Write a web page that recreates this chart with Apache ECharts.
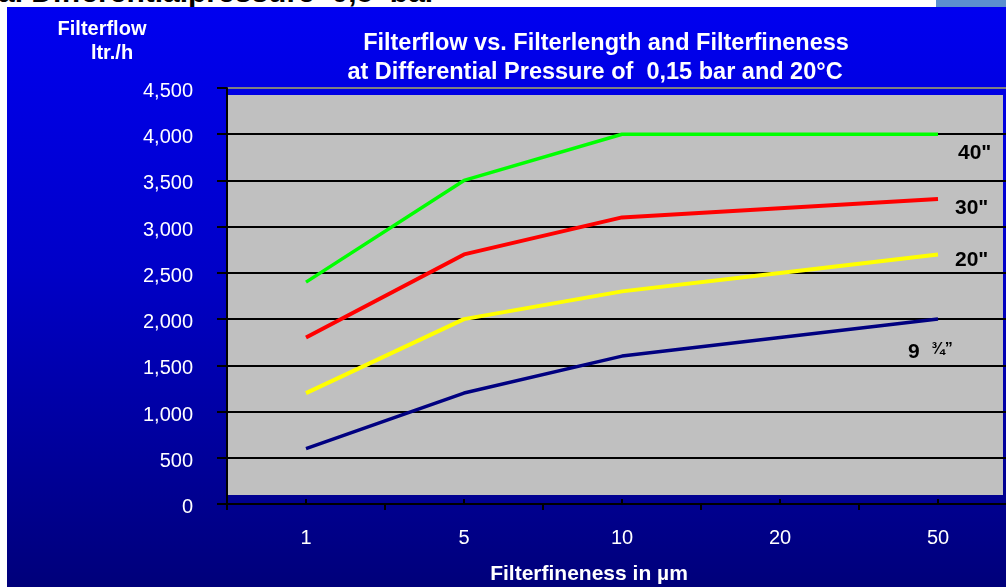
<!DOCTYPE html>
<html><head><meta charset="utf-8">
<script src="https://cdn.jsdelivr.net/npm/echarts@6/dist/echarts.min.js"></script>
<style>
html,body{margin:0;padding:0;background:#fff;width:1006px;height:587px;overflow:hidden;font-family:"Liberation Sans",Arial,sans-serif;position:relative}
#cut{position:absolute;left:0;top:0;width:1006px;height:7px;overflow:hidden}
#cut span{position:absolute;left:-2px;top:-23px;font:bold 30px "Liberation Sans",Arial,sans-serif;color:#000;white-space:pre;line-height:30px}
#corner{position:absolute;left:936px;top:0;width:70px;height:7px;background:#5b8fcf}
#bg{position:absolute;left:7px;top:7px;width:999px;height:580px;background:linear-gradient(to bottom,#0000f0 0%,#0000c8 45%,#00007a 100%)}
#chart{position:absolute;left:0;top:0;width:1030px;height:587px}
</style></head>
<body>
<div id="cut"><span>al Differentialpressure  0,5  bar</span></div>
<div id="corner"></div>
<div id="bg"></div>
<div id="chart"></div>
<script>
const categories = ['1', '5', '10', '20', '50'];
const yTicks = [0, 500, 1000, 1500, 2000, 2500, 3000, 3500, 4000, 4500];
const seriesNames = ['40"', '30"', '20"', '9 ¾”'];
const s40 = [2400, 3500, 4000, 4000, 4000];
const s30 = [1800, 2700, 3100, 3200, 3300];
const s20 = [1200, 2000, 2300, 2500, 2700];
const s9 = [600, 1200, 1600, 1800, 2000];

const chart = echarts.init(document.getElementById('chart'), null, {renderer: 'canvas'});
const FONT = '"Liberation Sans", Arial, sans-serif';
function mk(name, data, color, width, offset, fmt) {
  return {
    name: name, type: 'line', data: data, symbol: 'none', smooth: false,
    lineStyle: {color: color, width: width}, itemStyle: {color: color},
    z: 3,
    endLabel: {
      show: true, position: 'right', distance: 0, offset: offset,
      color: '#000', fontFamily: FONT, fontWeight: 'bold', fontSize: 21,
      formatter: fmt || name,
      rich: {
        a: {fontFamily: FONT, fontWeight: 'bold', fontSize: 21, color: '#000'},
        b: {fontFamily: FONT, fontWeight: 'bold', fontSize: 16, color: '#000', verticalAlign: 'top', padding: [0,0,6,0]}
      }
    }
  };
}
const option = {
  animation: false,
  backgroundColor: 'transparent',
  grid: {left: 227, top: 88, width: 790, height: 416, show: false},
  graphic: [
    {type: 'rect', shape: {x: 227, y: 95, width: 776, height: 400}, style: {fill: '#c0c0c0'}, z: -10, silent: true},
    {type: 'text', x: 606, y: 44, style: {text: 'Filterflow vs. Filterlength and Filterfineness', textAlign: 'center', textVerticalAlign: 'middle', fill: '#fff', font: 'bold 23.5px ' + FONT}},
    {type: 'text', x: 595, y: 73, style: {text: 'at Differential Pressure of  0,15 bar and 20°C', textAlign: 'center', textVerticalAlign: 'middle', fill: '#fff', font: 'bold 23.5px ' + FONT}},
    {type: 'text', x: 102, y: 29, style: {text: 'Filterflow', textAlign: 'center', textVerticalAlign: 'middle', fill: '#fff', font: 'bold 20px ' + FONT}},
    {type: 'text', x: 112, y: 53, style: {text: 'ltr./h', textAlign: 'center', textVerticalAlign: 'middle', fill: '#fff', font: 'bold 20px ' + FONT}},
    {type: 'text', x: 589, y: 574, style: {text: 'Filterfineness in µm', textAlign: 'center', textVerticalAlign: 'middle', fill: '#fff', font: 'bold 21px ' + FONT}}
  ],
  xAxis: [{
    type: 'category', data: categories, boundaryGap: true, position: 'bottom',
    axisLine: {show: true, lineStyle: {color: '#000', width: 2}},
    axisTick: {show: true, alignWithLabel: false, length: 6, lineStyle: {color: '#000', width: 2}},
    axisLabel: {color: '#fff', fontFamily: FONT, fontSize: 20, margin: 24},
    splitLine: {show: false}
  }, {
    type: 'category', data: categories, boundaryGap: true, position: 'bottom',
    axisLine: {show: false},
    axisTick: {show: true, inside: true, alignWithLabel: true, length: 5, lineStyle: {color: '#000', width: 2}},
    axisLabel: {show: false}, splitLine: {show: false}
  }],
  yAxis: {
    type: 'value', min: yTicks[0], max: yTicks[yTicks.length - 1], interval: 500,
    axisLine: {show: true, lineStyle: {color: '#000', width: 2}},
    axisTick: {show: true, length: 10, lineStyle: {color: '#000', width: 2}},
    axisLabel: {color: '#fff', fontFamily: FONT, fontSize: 20, margin: 34,
      formatter: v => '{v|' + v.toLocaleString('en-US') + '}',
      rich: {v: {color: '#fff', fontFamily: FONT, fontSize: 20, padding: [7, 0, 0, 0]}}},
    splitLine: {show: true, lineStyle: {width: 2, color: ['#000','#000','#000','#000','#000','#000','#000','#000','#000','#808080']}}
  },
  series: [
    mk(seriesNames[3], s9, '#000080', 3.5, [-30, 33], '{a|9}  {b|¾”}'),
    mk(seriesNames[2], s20, '#ffff00', 4, [17, 6]),
    mk(seriesNames[1], s30, '#ff0000', 4, [17, 9]),
    mk(seriesNames[0], s40, '#00ff00', 3.5, [20, 19])
  ]
};
chart.setOption(option);
</script>
</body></html>
